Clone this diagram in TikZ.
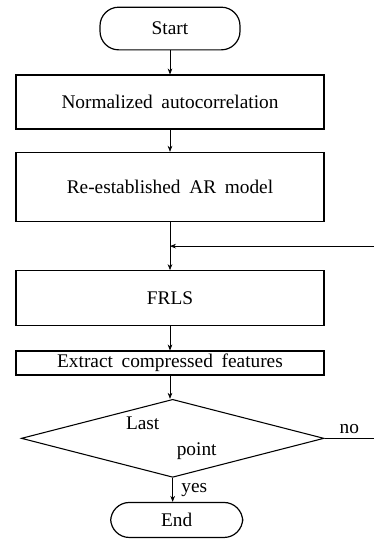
\documentclass[tikz,border=0pt]{standalone}
\usepackage{fontspec}
\setmainfont{Liberation Serif}
\usetikzlibrary{arrows.meta,positioning,shapes.geometric,calc}
\newcommand\flowfont{\fontsize{14.5}{17}\selectfont\spaceskip=0.45em plus 0.1em\relax}

\begin{document}
\begin{tikzpicture}[
    >={Stealth[length=4.5pt,width=3.5pt]},
    node distance=18pt,
    font=\flowfont,
    box/.style={draw,line width=1pt,minimum width=231pt,inner sep=2pt,align=center},
    term/.style={draw,line width=0.9pt,rounded corners=14pt,align=center},
    test/.style={draw,line width=0.8pt,diamond,aspect=3.9,minimum width=227pt,
                 minimum height=58.5pt,inner sep=0pt,align=center},
    flow/.style={->,line width=0.5pt},
    line/.style={line width=0.5pt}
  ]
  \useasboundingbox (0,0) rectangle (280.5pt,-405.75pt);
  \coordinate (rim) at (280.5pt,0);

  \node[term,minimum width=105pt,minimum height=32pt] (start) at (127.5pt,-21.4pt) {Start};
  \node[box,minimum height=40.5pt,below=18pt of start] (acorr) {Normalized autocorrelation};
  \node[box,minimum height=51.75pt,below=16.5pt of acorr] (armodel) {Re-established AR model};
  \node[box,minimum height=41.25pt,below=36pt of armodel] (frls) {FRLS};
  \node[box,minimum height=18pt,below=18pt of frls] (extract) {Extract compressed features};
  \node[test,below=17.25pt of extract,xshift=2pt] (last) {Last\hspace*{45pt}\\[2pt]\hspace*{36pt}point};
  \node[term,minimum width=99pt,minimum height=26.25pt,below=18pt of last,xshift=3pt] (end) {End};

  % main flow
  \draw[flow] (start) -- (acorr);
  \draw[flow] (acorr) -- (armodel);
  \draw[flow] (armodel) -- (frls);
  \draw[flow] (frls) -- (extract);
  \draw[flow] (extract) -- (extract |- last.north);
  \draw[flow] (last.south) -- node[right,xshift=3pt]{yes} (last.south |- end.north);

  % loop back for the next point
  \coordinate (merge) at ($(armodel.south)!0.5!(frls.north)$);
  \draw[line] (last.east) -- node[above]{no} (last.east -| rim);
  \draw[flow] (merge -| rim) -- (merge);
\end{tikzpicture}
\end{document}
